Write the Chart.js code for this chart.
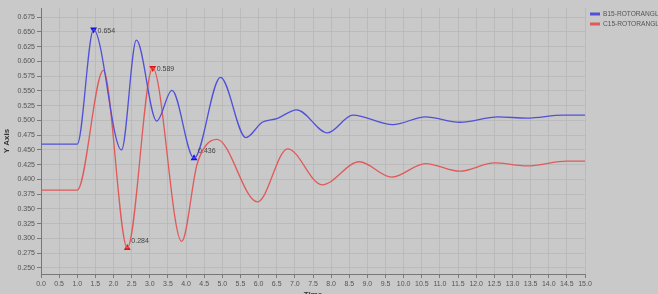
<!DOCTYPE html>
<html>
<head>
<meta charset="utf-8">
<title>Rotor angle</title>
<script src="https://cdn.jsdelivr.net/npm/chart.js@4"></script>
<style>
  html, body { margin: 0; padding: 0; background: #c9c9c9; overflow: hidden; }
  #wrap { width: 658px; height: 294px; }
</style>
</head>
<body>
<div id="wrap"><canvas id="rotorChart" width="658" height="294"></canvas></div>
<script>
'use strict';

// series (time in s, rotor angle), mostly the turning points
const b15Times  = [0, 1.0, 1.45, 2.22, 2.63, 3.19, 3.61, 4.22, 4.95, 5.65, 6.1, 6.5, 7.05, 7.9, 8.6, 9.7, 10.6, 11.55, 12.6, 13.4, 14.4, 15.0]
const b15Values = [0.460, 0.460, 0.654, 0.450, 0.636, 0.499, 0.551, 0.436, 0.573, 0.471, 0.497, 0.503, 0.518, 0.479, 0.509, 0.493, 0.506, 0.497, 0.506, 0.504, 0.509, 0.509]

const c15Times  = [0, 1.0, 1.72, 2.38, 3.08, 3.88, 4.3, 4.55, 4.85, 5.97, 6.8, 7.75, 8.78, 9.67, 10.6, 11.55, 12.5, 13.4, 14.5, 15.0]
const c15Values = [0.382, 0.382, 0.585, 0.284, 0.589, 0.295, 0.425, 0.458, 0.468, 0.362, 0.452, 0.391, 0.430, 0.404, 0.427, 0.414, 0.428, 0.423, 0.431, 0.431]

// marked extremes
const b15MarkTimes  = [1.45, 4.22]
const b15MarkValues = [0.654, 0.436]
const b15MarkDown   = [true, false]
const c15MarkTimes  = [3.08, 2.38]
const c15MarkValues = [0.589, 0.284]
const c15MarkDown   = [true, false]

// tick labels
const xTicks = ['0.0', '0.5', '1.0', '1.5', '2.0', '2.5', '3.0', '3.5', '4.0', '4.5', '5.0', '5.5', '6.0', '6.5', '7.0', '7.5', '8.0', '8.5', '9.0', '9.5', '10.0', '10.5', '11.0', '11.5', '12.0', '12.5', '13.0', '13.5', '14.0', '14.5', '15.0']
const yTicks = ['0.250', '0.275', '0.300', '0.325', '0.350', '0.375', '0.400', '0.425', '0.450', '0.475', '0.500', '0.525', '0.550', '0.575', '0.600', '0.625', '0.650', '0.675']

const seriesNames = ['B15-ROTORANGLE', 'C15-ROTORANGLE']
const lineColors = ['#5050d8', '#e05a5a']
const markColors = ['#1010f0', '#f01010']

const toPoints = (xs, ys) => xs.map((x, i) => ({ x: x, y: ys[i] }))

const tickFont = { family: 'Liberation Sans', size: 7 }

/**
 * Draws value labels next to the marker triangles
 */
const markLabels = {
  id: 'markLabels',
  afterDatasetsDraw(chart) {
    const ctx = chart.ctx
    ctx.save()
    ctx.font = '7px "Liberation Sans"'
    ctx.fillStyle = '#444'
    ctx.textBaseline = 'middle'
    chart.data.datasets.forEach((ds, di) => {
      if (!ds.isMark) return
      chart.getDatasetMeta(di).data.forEach((el, i) => {
        const down = ds.down[i]
        ctx.fillText(ds.data[i].y.toFixed(3), el.x + 4, el.y + (down ? 1 : -7))
      })
    })
    ctx.restore()
  }
}

/**
 * Draws the legend at the top right, clipped by the canvas edge
 */
const sideLegend = {
  id: 'sideLegend',
  afterDraw(chart) {
    const ctx = chart.ctx
    ctx.save()
    ctx.font = '6.6px "Liberation Sans"'
    ctx.textBaseline = 'middle'
    seriesNames.forEach((name, i) => {
      const y = 14 + i * 10
      ctx.fillStyle = lineColors[i]
      ctx.fillRect(590, y - 1.5, 10, 3)
      ctx.fillStyle = '#555'
      ctx.fillText(name, 603, y)
    })
    ctx.restore()
  }
}

const markDataset = (label, times, values, down, color) => ({
  label: label,
  isMark: true,
  down: down,
  data: toPoints(times, values),
  showLine: false,
  pointStyle: 'triangle',
  pointRotation: down.map(d => d ? 180 : 0),
  pointRadius: 4,
  pointBackgroundColor: color,
  pointBorderColor: color,
  borderWidth: 0
})

const lineDataset = (label, times, values, color) => ({
  label: label,
  data: toPoints(times, values),
  borderColor: color,
  borderWidth: 1.3,
  pointRadius: 0,
  cubicInterpolationMode: 'monotone'
})

const config = {
  type: 'line',
  data: {
    datasets: [
      lineDataset(seriesNames[0], b15Times, b15Values, lineColors[0]),
      lineDataset(seriesNames[1], c15Times, c15Values, lineColors[1]),
      markDataset('b15 marks', b15MarkTimes, b15MarkValues, b15MarkDown, markColors[0]),
      markDataset('c15 marks', c15MarkTimes, c15MarkValues, c15MarkDown, markColors[1])
    ]
  },
  options: {
    responsive: false,
    animation: false,
    layout: { padding: { top: 8, right: 73, left: 0, bottom: 0 } },
    plugins: {
      legend: { display: false },
      tooltip: { enabled: false }
    },
    scales: {
      x: {
        type: 'linear',
        min: 0,
        max: 15,
        afterBuildTicks: scale => { scale.ticks = xTicks.map(t => ({ value: parseFloat(t) })) },
        afterFit: scale => { scale.height = 20 },
        ticks: {
          font: tickFont,
          color: '#555',
          padding: 2,
          maxRotation: 0,
          autoSkip: false,
          callback: v => v.toFixed(1)
        },
        grid: { color: '#b8b8b8', tickColor: '#666', tickLength: 4, lineWidth: 0.8 },
        border: { color: '#777', width: 1 },
        title: {
          display: true,
          text: 'Time',
          font: { family: 'Liberation Sans', size: 8, weight: 'bold' },
          color: '#333',
          padding: { top: 0, bottom: -6 }
        }
      },
      y: {
        type: 'linear',
        min: 0.2398,
        max: 0.6906,
        afterBuildTicks: scale => { scale.ticks = yTicks.map(t => ({ value: parseFloat(t) })) },
        afterFit: scale => { scale.width = 41 },
        ticks: {
          font: tickFont,
          color: '#555',
          padding: 2,
          autoSkip: false,
          callback: v => v.toFixed(3)
        },
        grid: { color: '#b8b8b8', tickColor: '#666', tickLength: 4, lineWidth: 0.8 },
        border: { color: '#777', width: 1 },
        title: {
          display: true,
          text: 'Y Axis',
          font: { family: 'Liberation Sans', size: 8, weight: 'bold' },
          color: '#333',
          padding: { top: 2, bottom: 0 }
        }
      }
    }
  },
  plugins: [markLabels, sideLegend]
}

new Chart(document.getElementById('rotorChart'), config)
</script>
</body>
</html>
